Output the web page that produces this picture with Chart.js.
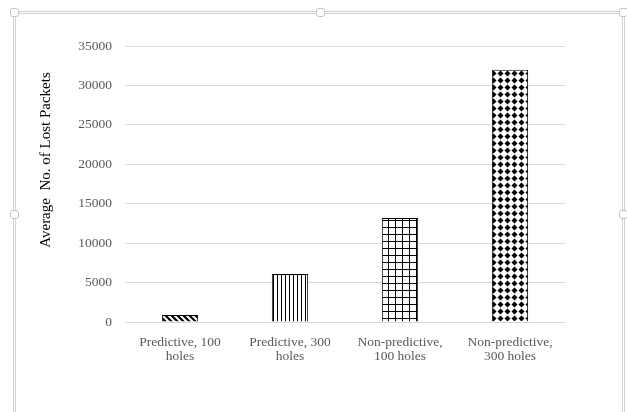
<!DOCTYPE html>
<html>
<head>
<meta charset="utf-8">
<script src="https://cdn.jsdelivr.net/npm/chart.js@4/dist/chart.umd.min.js"></script>
<style>
  html, body { margin: 0; padding: 0; background: #fff; }
  #wrap { position: relative; width: 627px; height: 412px; overflow: hidden; }
  #frame { position: absolute; left: 13px; top: 11px; width: 606px; height: 420px;
           border: 3px double #d2d2d2; }
  .handle { position: absolute; width: 7px; height: 7px; background: #fff;
            border: 1px solid #c4c4c4; border-radius: 3px; }
  canvas { position: absolute; left: 0; top: 0; }
</style>
</head>
<body>
<div id="wrap">
  <div id="frame"></div>
  <div class="handle" style="left:10px;top:8px"></div>
  <div class="handle" style="left:316px;top:8px"></div>
  <div class="handle" style="left:619px;top:8px"></div>
  <div class="handle" style="left:10px;top:210px"></div>
  <div class="handle" style="left:619px;top:210px"></div>
  <canvas id="chart" width="627" height="412"></canvas>
</div>
<script>
// Lost packets per scheme
const categories = [
  ['Predictive, 100', 'holes'],
  ['Predictive, 300', 'holes'],
  ['Non-predictive,', '100 holes'],
  ['Non-predictive,', '300 holes']
];
const lostPackets = [900, 6100, 13200, 32000];
const yTicks = [0, 5000, 10000, 15000, 20000, 25000, 30000, 35000];
const yTitle = 'Average  No. of Lost Packets';

// Fill patterns for each bar
function makePattern(size, draw) {
  const c = document.createElement('canvas');
  c.width = size; c.height = size;
  const g = c.getContext('2d');
  g.fillStyle = '#fff';
  g.fillRect(0, 0, size, size);
  g.fillStyle = '#000';
  g.strokeStyle = '#000';
  draw(g, size);
  return document.getElementById('chart').getContext('2d').createPattern(c, 'repeat');
}

const hatch = makePattern(6, (g, s) => {
  g.lineWidth = 2.2;
  g.beginPath();
  g.moveTo(-1, -1); g.lineTo(s + 1, s + 1);
  g.moveTo(-1 - s, -1); g.lineTo(1, s + 1);
  g.moveTo(s - 1, -1); g.lineTo(2 * s + 1, s + 1);
  g.stroke();
});
const vertical = makePattern(4, (g, s) => {
  g.fillRect(1, 0, 1, s);
});
const grid = makePattern(7, (g, s) => {
  g.fillRect(3, 0, 1, s);
  g.fillRect(0, 3, s, 1);
});
const diamonds = makePattern(7, (g, s) => {
  const cx = 3.5, cy = 3.5, r = 3;
  g.beginPath();
  g.moveTo(cx, cy - r); g.lineTo(cx + r, cy); g.lineTo(cx, cy + r); g.lineTo(cx - r, cy);
  g.closePath();
  g.fill();
});

const serif = '"Liberation Serif", "Times New Roman", serif';

// Rotated y-axis title
const yTitlePlugin = {
  id: 'yTitle',
  afterDraw(chart) {
    const ctx = chart.ctx;
    ctx.save();
    ctx.translate(46, 160);
    ctx.rotate(-Math.PI / 2);
    ctx.font = '15px ' + serif;
    ctx.fillStyle = '#000';
    ctx.textAlign = 'center';
    ctx.textBaseline = 'middle';
    ctx.fillText(yTitle, 0, 0);
    ctx.restore();
  }
};

new Chart(document.getElementById('chart'), {
  type: 'bar',
  data: {
    labels: categories,
    datasets: [{
      data: lostPackets,
      backgroundColor: [hatch, vertical, grid, diamonds],
      borderColor: '#000',
      borderWidth: 1,
      categoryPercentage: 1,
      barPercentage: 0.33
    }]
  },
  options: {
    responsive: false,
    animation: false,
    layout: { padding: { top: 46, right: 62, left: 0, bottom: 0 } },
    plugins: { legend: { display: false }, tooltip: { enabled: false } },
    scales: {
      x: {
        grid: { display: false },
        border: { display: false },
        ticks: {
          color: '#595959',
          font: { family: serif, size: 13.5, lineHeight: 1.05 },
          padding: 5,
          maxRotation: 0,
          autoSkip: false
        },
        afterFit(scale) { scale.height = 90; }
      },
      y: {
        min: 0,
        max: 35000,
        afterBuildTicks(scale) { scale.ticks = yTicks.map(v => ({ value: v })); },
        grid: { color: '#d9d9d9', drawTicks: false },
        border: { display: false },
        ticks: {
          color: '#595959',
          font: { family: serif, size: 13.5 },
          padding: 13,
          callback: (v) => String(v)
        },
        afterFit(scale) { scale.width = 125; }
      }
    }
  },
  plugins: [yTitlePlugin]
});
</script>
</body>
</html>
